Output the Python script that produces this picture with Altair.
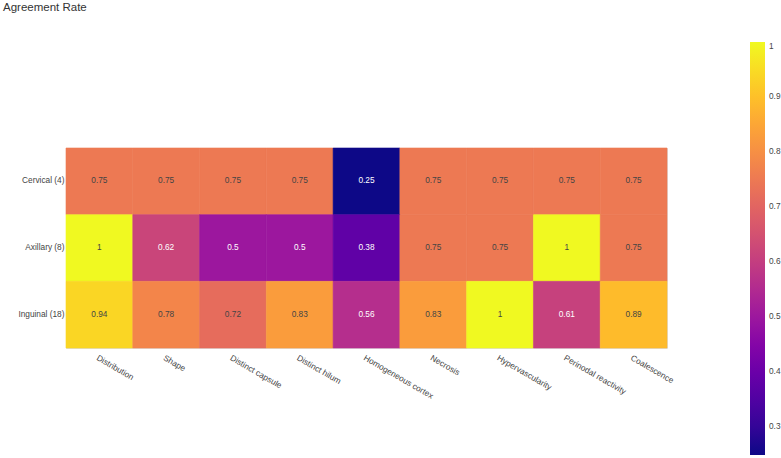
import altair as alt
import pandas as pd

rows = ["Cervical (4)", "Axillary (8)", "Inguinal (18)"]
cols = ["Distribution", "Shape", "Distinct capsule", "Distinct hilum",
        "Homogeneous cortex", "Necrosis", "Hypervascularity",
        "Perinodal reactivity", "Coalescence"]
cervical = [0.75, 0.75, 0.75, 0.75, 0.25, 0.75, 0.75, 0.75, 0.75]
axillary = [1, 0.62, 0.5, 0.5, 0.38, 0.75, 0.75, 1, 0.75]
inguinal = [0.94, 0.78, 0.72, 0.83, 0.56, 0.83, 1, 0.61, 0.89]
legend_ticks = [0.3, 0.4, 0.5, 0.6, 0.7, 0.8, 0.9, 1.0]

records = []
for r, vals in zip(rows, [cervical, axillary, inguinal]):
    for c, v in zip(cols, vals):
        records.append({"row": r, "col": c, "value": v})
df = pd.DataFrame(records)

FONT = "Liberation Sans"

base = alt.Chart(df).encode(
    x=alt.X("col:N", sort=cols, title=None,
            scale=alt.Scale(paddingInner=0, paddingOuter=0),
            axis=alt.Axis(labelAngle=30, labelAlign="left", labelBaseline="top",
                          ticks=False, domain=False, grid=False, labelPadding=5,
                          labelFontSize=8.3, labelColor="#444", labelFont=FONT)),
    y=alt.Y("row:N", sort=rows, title=None,
            scale=alt.Scale(paddingInner=0, paddingOuter=0),
            axis=alt.Axis(ticks=False, domain=False, grid=False, labelPadding=2,
                          labelFontSize=8.3, labelColor="#444", labelFont=FONT)),
)

color_scale = alt.Scale(scheme="plasma", domain=[0.25, 1])

rect = base.mark_rect(stroke=alt.ExprRef("scale('color', datum.value)"),
                      strokeWidth=0.6).encode(
    color=alt.Color("value:Q", scale=color_scale,
                    legend=alt.Legend(title=None, orient="none", type="gradient",
                                      legendX=684, legendY=-106,
                                      gradientLength=413, gradientThickness=15,
                                      values=legend_ticks, format="~g",
                                      labelFontSize=8.3, labelColor="#444",
                                      labelFont=FONT, labelOffset=4,
                                      gradientStrokeWidth=0)),
)

text = base.mark_text(fontSize=8.3, font=FONT).encode(
    text=alt.Text("value:Q", format=".2~f"),
    color=alt.condition("datum.value < 0.65", alt.value("white"), alt.value("#444")),
)

chart = (rect + text).properties(
    width=601, height=200,
    title=alt.TitleParams("Agreement Rate", anchor="start", frame="group",
                          fontSize=11.5, font=FONT, fontWeight="normal",
                          color="#333", dx=-63, dy=-20, offset=0,
                          baseline="alphabetic"),
    autosize=alt.AutoSizeParams(type="none"),
    padding={"left": 66, "top": 148, "right": 114, "bottom": 110},
).configure_view(stroke=None).configure(background="white")

chart.save("out.html", embed_options={"renderer": "svg", "actions": False})
